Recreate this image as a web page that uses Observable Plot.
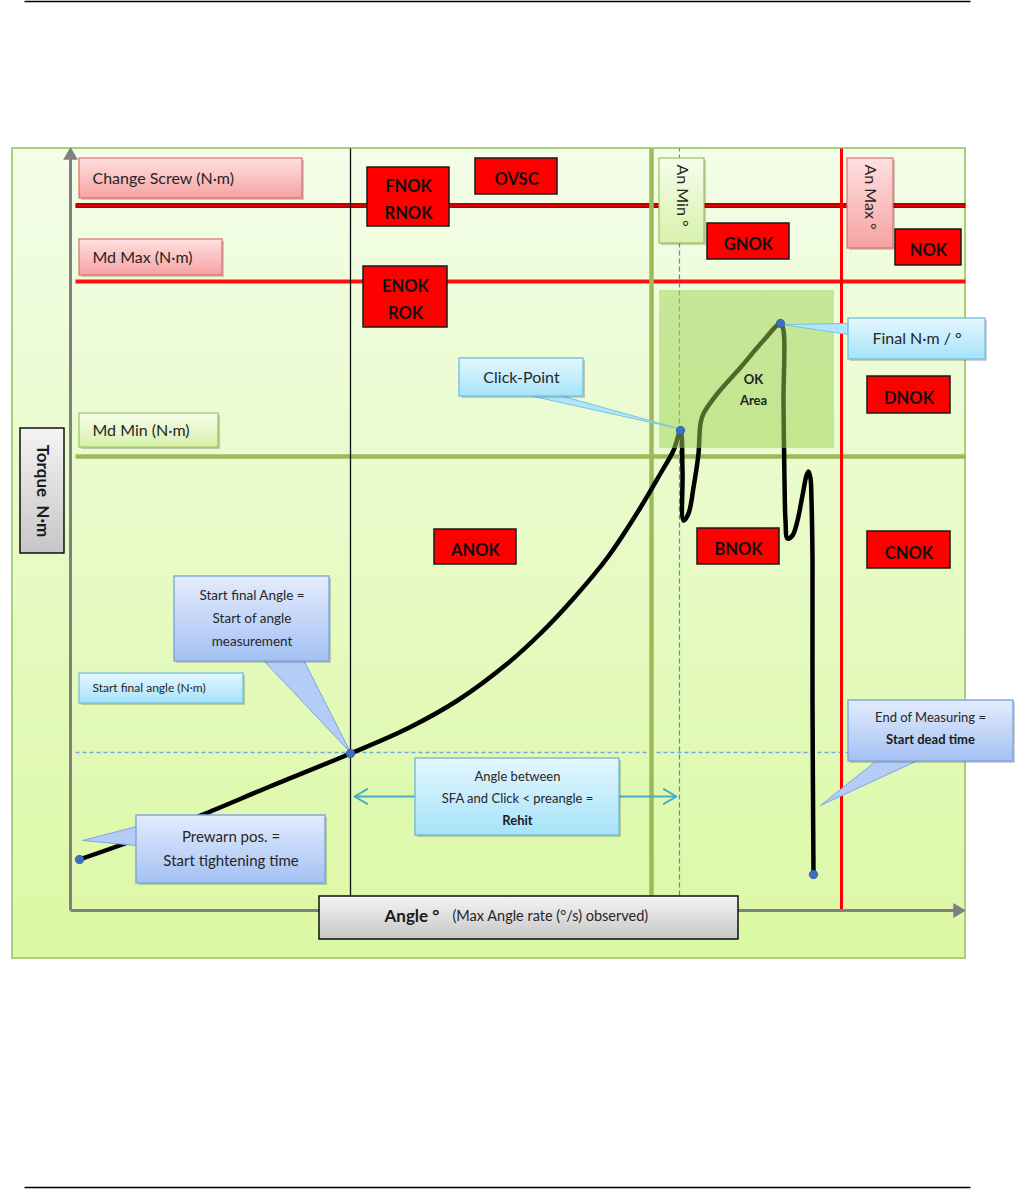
<!DOCTYPE html>
<html>
<head>
<meta charset="utf-8">
<script src="https://cdn.jsdelivr.net/npm/d3@7"></script>
<script src="https://cdn.jsdelivr.net/npm/@observablehq/plot@0.6"></script>
<style>
  body { margin: 0; background: #ffffff; }
  svg.defs { position: absolute; width: 0; height: 0; overflow: hidden; }
</style>
</head>
<body>
<svg class="defs" aria-hidden="true">
  <defs>
    <linearGradient id="gFrame" x1="0" y1="0" x2="0" y2="1">
      <stop offset="0" stop-color="#f3fde8"/><stop offset="1" stop-color="#dbf8a3"/>
    </linearGradient>
    <linearGradient id="gPink" x1="0" y1="0" x2="0" y2="1">
      <stop offset="0" stop-color="#ffe0e0"/><stop offset="1" stop-color="#f6a2a2"/>
    </linearGradient>
    <linearGradient id="gGreen" x1="0" y1="0" x2="0" y2="1">
      <stop offset="0" stop-color="#f6fdeb"/><stop offset="1" stop-color="#d7f1ab"/>
    </linearGradient>
    <linearGradient id="gCyan" x1="0" y1="0" x2="0" y2="1">
      <stop offset="0" stop-color="#e4f7fe"/><stop offset="1" stop-color="#a6e3fa"/>
    </linearGradient>
    <linearGradient id="gBlue" x1="0" y1="0" x2="0" y2="1">
      <stop offset="0" stop-color="#e4ecfc"/><stop offset="1" stop-color="#a3c1f4"/>
    </linearGradient>
    <linearGradient id="gGray" x1="0" y1="0" x2="0" y2="1">
      <stop offset="0" stop-color="#f4f4f4"/><stop offset="1" stop-color="#c6c6c6"/>
    </linearGradient>
  </defs>
</svg>
<div id="chart"></div>
<script>
// ---------- Diagram data (x = angle units, y = torque units) ----------
const pageRules = [
  {from: -46, to: 900, torque: 909},
  {from: -46, to: 900, torque: -277}
];
const frame = [{a1: -58, a2: 895, t1: -48, t2: 762}];
const okArea = [{a1: 589, a2: 764, t1: 462, t2: 620}];
const okText = [{text: "OK", angle: 683, torque: 531}, {text: "Area", angle: 683, torque: 510}];

const changeScrewLine = [{torque: 705, from: 5, to: 895}];
const mdMaxLine = [{torque: 629, from: 5, to: 895}];
const mdMinLine = [{torque: 454, from: 5, to: 895}];
const startFinalTorqueLine = [{torque: 158, from: 5, to: 895}];

const sfaAngleLine = [{angle: 280, from: 0, to: 762}];
const anMinLine = [{angle: 581, from: 15, to: 762}];
const clickAngleLine = [{angle: 609, from: 15, to: 762}];
const anMaxLine = [{angle: 771, from: 0, to: 762}];

const axisLines = [
  {a1: 0, t1: 0, a2: 0, t2: 752},
  {a1: 0, t1: 0, a2: 884, t2: 0}
];
const axisHeads = [
  {angle: 0, torque: 755, rot: 0},
  {angle: 887, torque: 0, rot: 90}
];

// tightening curve
const curveAngle  = [9, 63, 130, 197, 280, 337, 387, 437, 470, 503, 537, 570, 590, 603, 610,
                     612, 613, 618, 623, 628, 630, 633, 647, 670, 693, 710,
                     713, 713, 714, 715, 717, 722, 727, 732, 736, 738, 740, 741, 742, 742, 743];
const curveTorque = [51, 70, 95, 123, 157, 182, 210, 247, 277, 312, 353, 403, 437, 460, 480,
                     440, 390, 397, 423, 457, 487, 497, 517, 543, 570, 587,
                     580, 510, 430, 390, 372, 375, 390, 415, 435, 439, 432, 410, 350, 210, 36];
const keyPoints = [
  {name: "Prewarn", angle: 9, torque: 51},
  {name: "Start final angle", angle: 280, torque: 157},
  {name: "Click-Point", angle: 610, torque: 480},
  {name: "Final", angle: 710, torque: 587},
  {name: "End of measuring", angle: 743, torque: 36}
];

const nokBoxes = [
  {code: "FNOK\nRNOK", a1: 297, a2: 379, t1: 684, t2: 743},
  {code: "OVSC", a1: 405, a2: 487, t1: 716, t2: 752},
  {code: "ENOK\nROK", a1: 293, a2: 377, t1: 583, t2: 644},
  {code: "GNOK", a1: 637, a2: 719, t1: 651, t2: 687},
  {code: "NOK", a1: 825, a2: 891, t1: 645, t2: 681},
  {code: "DNOK", a1: 797, a2: 880, t1: 497, t2: 534},
  {code: "ANOK", a1: 364, a2: 446, t1: 346, t2: 381},
  {code: "BNOK", a1: 627, a2: 709, t1: 346, t2: 382},
  {code: "CNOK", a1: 797, a2: 880, t1: 342, t2: 379}
];

const limitLabels = [
  {label: "Change Screw (N·m)", a1: 9, a2: 232, t1: 712, t2: 752},
  {label: "Md Max (N·m)", a1: 9, a2: 152, t1: 635, t2: 671}
];
const minLabels = [{label: "Md Min (N·m)", a1: 9, a2: 148, t1: 463, t2: 497}];
const sfaLabel = [{label: "Start final angle (N·m)", a1: 9, a2: 173, t1: 207, t2: 237}];
const anMinLabel = [{label: "An Min °", a1: 589, a2: 634, t1: 667, t2: 752}];
const anMaxLabel = [{label: "An Max °", a1: 777, a2: 823, t1: 662, t2: 752}];
const torqueLabel = [{label: "Torque  N·m", a1: -50, a2: -6, t1: 357, t2: 482}];
const angleLabel = [{a1: 249, a2: 668, t1: -29, t2: 14}];
const angleTitle = [{text: "Angle °", angle: 314, torque: -6}];
const angleSub = [{text: "(Max Angle rate (°/s) observed)", angle: 382, torque: -6}];

const cyanCallouts = [
  {text: "Click-Point", a1: 389, a2: 513, t1: 514, t2: 552},
  {text: "Final N·m / °", a1: 778, a2: 915, t1: 551, t2: 592}
];
const cyanPointers = [
  {callout: "Click-Point", angle: 463, torque: 514},
  {callout: "Click-Point", angle: 608, torque: 482},
  {callout: "Click-Point", angle: 493, torque: 514},
  {callout: "Final", angle: 778, torque: 587},
  {callout: "Final", angle: 711, torque: 586},
  {callout: "Final", angle: 778, torque: 576}
];
const blueCallouts = [
  {text: "Start final Angle =\nStart of angle\nmeasurement", a1: 104, a2: 259, t1: 249, t2: 334},
  {text: "Prewarn pos. =\nStart tightening time", a1: 66, a2: 255, t1: 27, t2: 95},
  {text: "", a1: 778, a2: 943, t1: 149, t2: 210}
];
const bluePointers = [
  {callout: "SFA", angle: 194, torque: 249},
  {callout: "SFA", angle: 280, torque: 158},
  {callout: "SFA", angle: 234, torque: 249},
  {callout: "Prewarn", angle: 66, torque: 84},
  {callout: "Prewarn", angle: 12, torque: 70},
  {callout: "Prewarn", angle: 66, torque: 65},
  {callout: "End", angle: 805, torque: 149},
  {callout: "End", angle: 750, torque: 105},
  {callout: "End", angle: 845, torque: 149}
];
const endLines = [{text: "End of Measuring =", angle: 860, torque: 193}];
const endBold = [{text: "Start dead time", angle: 860, torque: 171}];

const rehitBox = [{a1: 345, a2: 549, t1: 75, t2: 152}];
const rehitLines = [
  {text: "Angle between", angle: 447, torque: 134},
  {text: "SFA and Click < preangle =", angle: 447, torque: 112}
];
const rehitBold = [{text: "Rehit", angle: 447, torque: 90}];
const rehitArrows = [
  {a1: 345, a2: 284, torque: 114},
  {a1: 549, a2: 606, torque: 114}
];

// ---------- Chart ----------
const FONT = "Lato, 'Open Sans', sans-serif";
const box = {x1: "a1", x2: "a2", y1: "t1", y2: "t2"};
const shadow = (data) => Plot.rect(data, {...box, dx: 2, dy: 2, fill: "#000", fillOpacity: 0.18});
const center = {x: d => (d.a1 + d.a2) / 2, y: d => (d.t1 + d.t2) / 2};
const polyline = (data, fill, stroke) =>
  Plot.line(data, {x: "angle", y: "torque", z: "callout", fill, stroke, strokeWidth: 1, curve: "linear"});

const chart = Plot.plot({
  width: 1024,
  height: 1190,
  margin: 0,
  x: {domain: [0, 890], range: [70, 960], axis: null},
  y: {domain: [0, 760], range: [910, 150], axis: null},
  style: {background: "#ffffff", fontFamily: FONT},
  marks: [
    // page rules
    Plot.link(pageRules, {x1: "from", x2: "to", y1: "torque", y2: "torque", stroke: "#000", strokeWidth: 1.6}),
    // frame
    Plot.rect(frame, {...box, fill: "url(#gFrame)", stroke: "#a8cf7a", strokeWidth: 2}),
    // torque limit lines
    Plot.link(changeScrewLine, {x1: "from", x2: "to", y1: "torque", y2: "torque", stroke: "#b00000", strokeWidth: 5}),
    Plot.link(changeScrewLine, {x1: "from", x2: "to", y1: "torque", y2: "torque", stroke: "#e80000", strokeWidth: 2}),
    Plot.link(mdMaxLine, {x1: "from", x2: "to", y1: "torque", y2: "torque", stroke: "#ff1010", strokeWidth: 4}),
    Plot.link(mdMinLine, {x1: "from", x2: "to", y1: "torque", y2: "torque", stroke: "#9bbb59", strokeWidth: 4.5}),
    Plot.link(startFinalTorqueLine, {x1: "from", x2: "to", y1: "torque", y2: "torque", stroke: "#6fa8dc", strokeWidth: 1.3, strokeDasharray: "4,3"}),
    // angle lines
    Plot.link(sfaAngleLine, {x1: "angle", x2: "angle", y1: "from", y2: "to", stroke: "#111", strokeWidth: 1.3}),
    Plot.link(anMinLine, {x1: "angle", x2: "angle", y1: "from", y2: "to", stroke: "#9bbb59", strokeWidth: 4.5}),
    Plot.link(clickAngleLine, {x1: "angle", x2: "angle", y1: "from", y2: "to", stroke: "#3d8fd1", strokeWidth: 1.2, strokeDasharray: "5,3"}),
    Plot.link(anMaxLine, {x1: "angle", x2: "angle", y1: "from", y2: "to", stroke: "#ff0000", strokeWidth: 3}),
    // axes
    Plot.link(axisLines, {x1: "a1", y1: "t1", x2: "a2", y2: "t2", stroke: "#808080", strokeWidth: 3}),
    Plot.dot(axisHeads, {x: "angle", y: "torque", symbol: "triangle", rotate: "rot", r: 5.5, fill: "#808080"}),
    // curve
    Plot.line(curveAngle.map((a, i) => ({angle: a, torque: curveTorque[i]})),
      {x: "angle", y: "torque", curve: "catmull-rom", stroke: "#000", strokeWidth: 4.5, strokeLinejoin: "round", strokeLinecap: "round"}),
    // OK area overlay
    Plot.rect(okArea, {...box, fill: "#9bd252", fillOpacity: 0.5}),
    Plot.text(okText, {x: "angle", y: "torque", text: "text", fontSize: 13, fontWeight: "bold", fill: "#222"}),
    // limit labels
    shadow(limitLabels),
    Plot.rect(limitLabels, {...box, fill: "url(#gPink)", stroke: "#e06c6c", strokeWidth: 1.2}),
    Plot.text(limitLabels, {x: "a1", y: d => (d.t1 + d.t2) / 2, dx: 13, text: "label", textAnchor: "start", fontSize: 16, fill: "#262626"}),
    shadow(minLabels),
    Plot.rect(minLabels, {...box, fill: "url(#gGreen)", stroke: "#9cc35c", strokeWidth: 1.2}),
    Plot.text(minLabels, {x: "a1", y: d => (d.t1 + d.t2) / 2, dx: 13, text: "label", textAnchor: "start", fontSize: 16, fill: "#262626"}),
    shadow(sfaLabel),
    Plot.rect(sfaLabel, {...box, fill: "url(#gCyan)", stroke: "#6fbcd8", strokeWidth: 1.2}),
    Plot.text(sfaLabel, {x: "a1", y: d => (d.t1 + d.t2) / 2, dx: 13, text: "label", textAnchor: "start", fontSize: 12, fill: "#262626"}),
    shadow(anMinLabel),
    Plot.rect(anMinLabel, {...box, fill: "url(#gGreen)", stroke: "#9cc35c", strokeWidth: 1.2}),
    Plot.text(anMinLabel, {x: d => (d.a1 + d.a2) / 2, y: "t2", dy: 6, rotate: 90, text: "label", textAnchor: "start", fontSize: 16, fill: "#262626"}),
    shadow(anMaxLabel),
    Plot.rect(anMaxLabel, {...box, fill: "url(#gPink)", stroke: "#e06c6c", strokeWidth: 1.2}),
    Plot.text(anMaxLabel, {x: d => (d.a1 + d.a2) / 2, y: "t2", dy: 6, rotate: 90, text: "label", textAnchor: "start", fontSize: 16, fill: "#262626"}),
    Plot.rect(torqueLabel, {...box, fill: "url(#gGray)", stroke: "#000", strokeWidth: 1.4}),
    Plot.text(torqueLabel, {...center, rotate: 90, text: "label", fontSize: 17, fontWeight: "bold", fill: "#1a1a1a"}),
    // red NOK boxes
    Plot.rect(nokBoxes, {...box, fill: "#ff0000", stroke: "#1a1a1a", strokeWidth: 1.5}),
    Plot.text(nokBoxes, {...center, text: "code", fontSize: 16.5, fontWeight: "bold", fill: "#111", lineHeight: 1.62}),
    // cyan callouts
    polyline(cyanPointers, "#b0e6fb", "#78c3de"),
    shadow(cyanCallouts),
    Plot.rect(cyanCallouts, {...box, fill: "url(#gCyan)", stroke: "#76c2de", strokeWidth: 1.4}),
    Plot.text(cyanCallouts, {...center, text: "text", fontSize: 16, fill: "#262626"}),
    // blue callouts
    polyline(bluePointers, "#b4cdf6", "#7fa4e2"),
    shadow(blueCallouts),
    Plot.rect(blueCallouts, {...box, fill: "url(#gBlue)", stroke: "#7fa4e2", strokeWidth: 1.4}),
    Plot.text(blueCallouts.slice(0, 1), {...center, dy: -3, text: "text", fontSize: 13.5, fill: "#262626", lineHeight: 1.7}),
    Plot.text(blueCallouts.slice(1, 2), {...center, dy: -3, text: "text", fontSize: 15, fill: "#262626", lineHeight: 1.6}),
    Plot.text(endLines, {x: "angle", y: "torque", text: "text", fontSize: 13, fill: "#262626"}),
    Plot.text(endBold, {x: "angle", y: "torque", text: "text", fontSize: 13, fontWeight: "bold", fill: "#1a1a1a"}),
    // rehit box and arrows
    Plot.arrow(rehitArrows, {x1: "a1", x2: "a2", y1: "torque", y2: "torque", stroke: "#4bacc6", strokeWidth: 2, headLength: 11}),
    shadow(rehitBox),
    Plot.rect(rehitBox, {...box, fill: "url(#gCyan)", stroke: "#6fbcd8", strokeWidth: 1.4}),
    Plot.text(rehitLines, {x: "angle", y: "torque", text: "text", fontSize: 13, fill: "#262626"}),
    Plot.text(rehitBold, {x: "angle", y: "torque", text: "text", fontSize: 13, fontWeight: "bold", fill: "#1a1a1a"}),
    // angle axis label
    Plot.rect(angleLabel, {...box, fill: "url(#gGray)", stroke: "#000", strokeWidth: 1.4}),
    Plot.text(angleTitle, {x: "angle", y: "torque", text: "text", textAnchor: "start", fontSize: 17, fontWeight: "bold", fill: "#1a1a1a"}),
    Plot.text(angleSub, {x: "angle", y: "torque", text: "text", textAnchor: "start", fontSize: 14.5, fill: "#262626"}),
    // key points
    Plot.dot(keyPoints, {x: "angle", y: "torque", r: 4.2, fill: "#3e6fc1", stroke: "#2f5ba8", strokeWidth: 0.8})
  ]
});
document.getElementById("chart").appendChild(chart);
</script>
</body>
</html>
